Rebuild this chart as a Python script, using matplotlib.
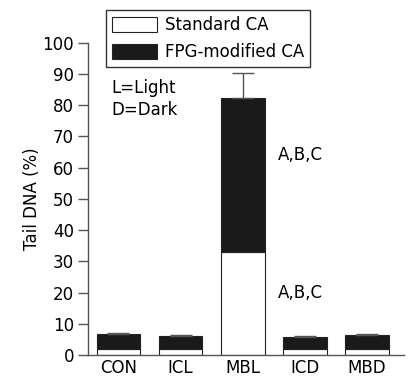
import numpy as np
import matplotlib.pyplot as plt

groups = ["CON", "ICL", "MBL", "ICD", "MBD"]
standard = [1.8, 1.8, 33.1, 1.8, 1.8]
fpg_total = [6.6, 6.2, 82.3, 5.9, 6.3]
err = [0.3, 0.3, 8.0, 0.3, 0.3]

plt.rcParams['font.family'] = ['DejaVu Sans']
grey = "#555555"

fig = plt.figure(figsize=(4.11, 3.76), dpi=100)
ax = fig.add_axes([0.214, 0.056, 0.77, 0.83])

x = np.arange(len(groups))
fpg_part = [t - s for t, s in zip(fpg_total, standard)]
ax.bar(x, standard, width=0.7, color="white", edgecolor="#222222", linewidth=0.8,
       label="Standard CA")
ax.bar(x, fpg_part, bottom=standard, width=0.7, color="#1a1a1a", edgecolor="#222222",
       linewidth=0.8, label="FPG-modified CA")
ax.errorbar(x, fpg_total, yerr=[np.zeros(len(err)), err], fmt="none", ecolor=grey,
            elinewidth=1, capsize=8, capthick=1)

ax.set_ylim(0, 100)
ax.set_xlim(-0.49, 4.6)
ax.set_yticks(range(0, 101, 10))
ax.set_xticks(x)
ax.set_xticklabels(groups, fontsize=12)
ax.tick_params(axis="x", length=0, pad=3)
ax.tick_params(axis="y", length=7, width=1, color=grey, labelsize=12, pad=3)
ax.set_ylabel("Tail DNA (%)", fontsize=12, labelpad=1)
for s in ["top", "right"]:
    ax.spines[s].set_visible(False)
for s in ["left", "bottom"]:
    ax.spines[s].set_color(grey)
    ax.spines[s].set_linewidth(1)

ax.text(-0.11, 85.6, "L=Light", fontsize=12, va="center")
ax.text(-0.11, 78.5, "D=Dark", fontsize=12, va="center")
ax.text(2.57, 64, "A,B,C", fontsize=12, va="center")
ax.text(2.57, 20, "A,B,C", fontsize=12, va="center")

leg = fig.legend(loc="upper left", bbox_to_anchor=(0.258, 0.973), fontsize=12,
                 frameon=True, fancybox=False, edgecolor="black", handlelength=2.7,
                 handleheight=1.0, borderpad=0.35, labelspacing=0.55, handletextpad=0.5,
                 borderaxespad=0)
leg.get_frame().set_linewidth(1)

fig.savefig("out.png", dpi=100)
